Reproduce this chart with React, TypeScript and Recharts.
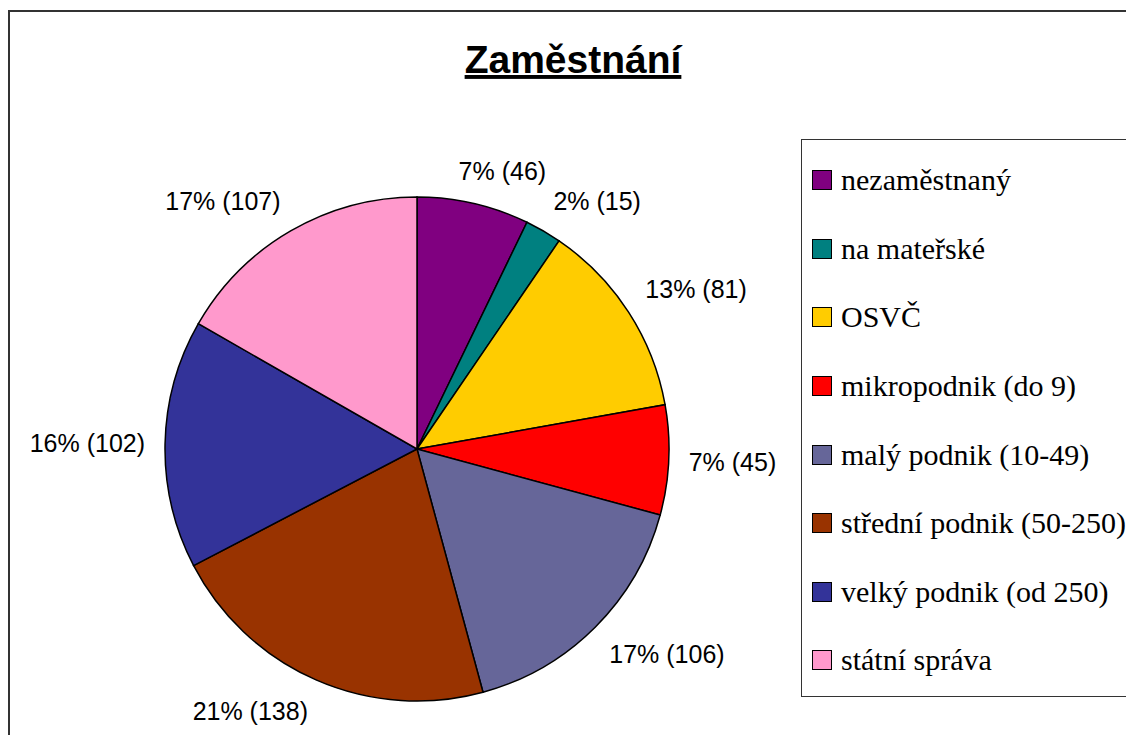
import React from 'react';
import { PieChart, Pie, Cell, Legend } from 'recharts';

const categories = [
  'nezaměstnaný',
  'na mateřské',
  'OSVČ',
  'mikropodnik (do 9)',
  'malý podnik (10-49)',
  'střední podnik (50-250)',
  'velký podnik (od 250)',
  'státní správa',
];
const counts = [46, 15, 81, 45, 106, 138, 102, 107];
const percentLabels = [7, 2, 13, 7, 17, 21, 16, 17];
const colors = ['#800080', '#008080', '#FFCC00', '#FF0000', '#666699', '#993300', '#333399', '#FF99CC'];

const title = 'Zaměstnání';

const data = categories.map((name, i) => ({ name, value: counts[i] }));

const LABEL_FONT = "'Liberation Sans', Arial, sans-serif";
const LABEL_SIZE = 25;

let ctx: CanvasRenderingContext2D | null = null;
function measure(text: string): number {
  try {
    if (!ctx) ctx = document.createElement('canvas').getContext('2d');
    if (ctx) {
      ctx.font = `${LABEL_SIZE}px 'Liberation Sans', Arial, sans-serif`;
      return ctx.measureText(text).width;
    }
  } catch (e) {}
  return text.length * LABEL_SIZE * 0.5;
}

const clamp = (v: number) => Math.max(-1, Math.min(1, v * 2.5));

const renderLabel = (props: any) => {
  const { cx, cy, midAngle, outerRadius, index } = props;
  const rad = (midAngle * Math.PI) / 180;
  const dx = Math.cos(rad);
  const dy = -Math.sin(rad);
  const text = `${percentLabels[index]}% (${counts[index]})`;
  const w = measure(text);
  const h = 25;
  const R = outerRadius + 20;
  const x = cx + R * dx + (w / 2) * clamp(dx);
  const y = cy + R * dy + (h / 2) * clamp(dy);
  return (
    <text
      key={`lbl-${index}`}
      x={x}
      y={y}
      textAnchor="middle"
      dominantBaseline="central"
      fontFamily={LABEL_FONT}
      fontSize={LABEL_SIZE}
      fill="#000"
    >
      {text}
    </text>
  );
};

const renderLegend = () => (
  <div
    style={{
      boxSizing: 'border-box',
      width: 332,
      height: 558,
      border: '1px solid #333',
      background: '#fff',
      paddingTop: 6,
      paddingLeft: 10,
    }}
  >
    {categories.map((c, i) => (
      <div
        key={c}
        style={{
          height: 68.6,
          display: 'flex',
          alignItems: 'center',
          fontFamily: "'Liberation Serif', 'Times New Roman', serif",
          fontSize: 30,
          color: '#000',
          whiteSpace: 'nowrap',
        }}
      >
        <span
          style={{
            display: 'inline-block',
            boxSizing: 'border-box',
            width: 20,
            height: 20,
            border: '1.5px solid #000',
            background: colors[i],
            marginRight: 9,
            flexShrink: 0,
          }}
        />
        <span>{c}</span>
      </div>
    ))}
  </div>
);

export default function App() {
  return (
    <div style={{ position: 'relative', width: 1126, height: 727, overflow: 'hidden', background: '#fff' }}>
      <div
        style={{
          position: 'absolute',
          left: 0,
          top: 2,
          width: 1300,
          height: 900,
          borderLeft: '2px solid #333',
          borderTop: '2px solid #333',
        }}
      />
      <svg
        width={1126}
        height={727}
        style={{ position: 'absolute', left: 0, top: 0, pointerEvents: 'none' }}
      >
        <text
          x={565}
          y={65}
          textAnchor="middle"
          fontFamily="'Liberation Sans', Arial, sans-serif"
          fontWeight="bold"
          fontSize={39}
          fill="#000"
          style={{ textDecoration: 'underline', textDecorationThickness: '4px', textUnderlineOffset: '7px' } as any}
        >
          {title}
        </text>
      </svg>
      <div style={{ position: 'absolute', left: 0, top: 0 }}>
        <PieChart width={1126} height={727} margin={{ top: 0, right: 0, bottom: 0, left: 0 }}>
          <Pie
            data={data}
            dataKey="value"
            nameKey="name"
            cx={409}
            cy={441}
            outerRadius={252}
            startAngle={90}
            endAngle={-270}
            stroke="#000"
            strokeWidth={1.5}
            label={renderLabel}
            labelLine={false}
            isAnimationActive={false}
          >
            {data.map((d, i) => (
              <Cell key={d.name} fill={colors[i]} />
            ))}
          </Pie>
          <Legend
            content={renderLegend}
            wrapperStyle={{ position: 'absolute', left: 793, top: 131, width: 332, height: 558 }}
          />
        </PieChart>
      </div>
    </div>
  );
}
